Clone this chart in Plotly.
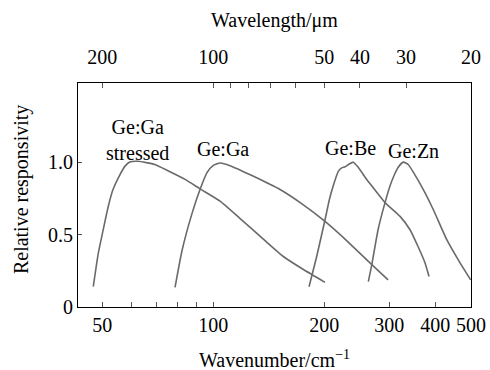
import numpy as np
import plotly.graph_objects as go

# Wavenumber (cm^-1) and relative responsivity for each detector
ga_stressed_wn = [47.3, 48.8, 50.3, 51.9, 53.5, 55.8, 57.6, 59.4, 62.5, 69.4, 75.4, 83.9,
                  92.1, 104.4, 118.3, 136.5, 154.6, 175.2, 201.0]
ga_stressed_r = [0.14, 0.37, 0.53, 0.69, 0.81, 0.91, 0.97, 1.00, 1.005, 0.983, 0.94, 0.88,
                 0.815, 0.73, 0.61, 0.47, 0.35, 0.26, 0.17]

ga_wn = [78.8, 82.3, 87.6, 92.1, 96.2, 99.9, 104.4, 111.1, 128.2, 151.8, 175.2, 201.0,
         235.0, 269.6, 298.0]
ga_r = [0.135, 0.388, 0.644, 0.81, 0.927, 0.975, 0.993, 0.975, 0.903, 0.81, 0.706, 0.59,
        0.436, 0.29, 0.187]

be_wn = [181.9, 190.8, 201.0, 206.5, 211.4, 218.4, 223.1, 227.8, 233.6, 239.9, 247.0,
         260.8, 283.4, 292.3, 321.1, 341.7, 359.2, 375.3, 384.8]
be_r = [0.14, 0.348, 0.602, 0.74, 0.833, 0.936, 0.96, 0.967, 0.986, 0.999, 0.965,
        0.879, 0.763, 0.72, 0.625, 0.533, 0.417, 0.304, 0.21]

zn_wn = [263.4, 269.1, 279.9, 292.3, 301.7, 309.3, 317.1, 327.7, 337.8, 356.3, 375.3,
         395.3, 429.8, 467.0, 499.0]
zn_r = [0.175, 0.29, 0.533, 0.72, 0.837, 0.907, 0.962, 0.999, 0.983, 0.891, 0.787,
        0.671, 0.464, 0.304, 0.187]

# Axis ticks
wn_ticks = [50, 60, 70, 80, 90, 100, 200, 300, 400, 500]
wn_labels = ["50", "", "", "", "", "100", "200", "300", "400", "500"]
wl_ticks_um = [200, 100, 90, 80, 70, 60, 50, 40, 30, 20]
wl_labels = ["200", "100", "", "", "", "", "50", "40", "30", "20"]
r_ticks = [0, 0.5, 1.0]
r_labels = ["0", "0.5", "1.0"]

# Curve labels: (text, wavenumber, responsivity)
labels = [
    ("Ge:Ga<br>stressed", 62.2, 1.149),
    ("Ge:Ga", 106.3, 1.087),
    ("Ge:Be", 235.0, 1.10),
    ("Ge:Zn", 348.3, 1.073),
]

FONT = "Liberation Serif, Times New Roman, DejaVu Serif, serif"
FS = 20
LINE = "#6a6a6a"

fig = go.Figure()
for wn, r in [(ga_stressed_wn, ga_stressed_r), (ga_wn, ga_r), (be_wn, be_r), (zn_wn, zn_r)]:
    fig.add_trace(go.Scatter(x=wn, y=r, mode="lines",
                             line=dict(color=LINE, width=1.6, shape="spline", smoothing=0.5),
                             showlegend=False, hoverinfo="skip"))

# carrier trace for the top (wavelength) axis
fig.add_trace(go.Scatter(x=[50, 500], y=[0, 0], xaxis="x2", mode="markers",
                         marker=dict(opacity=0), showlegend=False, hoverinfo="skip"))

xrange = [np.log10(43), np.log10(500)]

fig.update_layout(
    width=490, height=370,
    margin=dict(l=78, r=19, t=83, b=63),
    paper_bgcolor="white", plot_bgcolor="white",
    font=dict(family=FONT, size=FS, color="black"),
    xaxis=dict(type="log", range=xrange, tickvals=wn_ticks, ticktext=wn_labels,
               ticks="inside", ticklen=5, tickwidth=1, tickcolor="#555",
               showline=True, linecolor="black", linewidth=1.2, mirror=True,
               showgrid=False, zeroline=False, automargin=False),
    xaxis2=dict(type="log", range=xrange, overlaying="x", side="top", matches="x",
                tickvals=[10000.0 / w for w in wl_ticks_um], ticktext=wl_labels,
                ticks="inside", ticklen=5, tickwidth=1, tickcolor="#555",
                ticklabelstandoff=14,
                showline=False, showgrid=False, zeroline=False, automargin=False),
    yaxis=dict(range=[0, 1.545], tickvals=r_ticks, ticktext=r_labels,
               ticks="inside", ticklen=4, tickwidth=1, tickcolor="#555",
               showline=True, linecolor="black", linewidth=1.2, mirror=True,
               showgrid=False, zeroline=False, automargin=False),
)

for text, wn, r in labels:
    fig.add_annotation(x=np.log10(wn), y=r, xref="x", yref="y", text=text,
                       xanchor="center", yanchor="middle",
                       showarrow=False, font=dict(family=FONT, size=FS, color="black"))

# Axis titles
fig.add_annotation(x=0.5, y=1.281, xref="paper", yref="paper", text="Wavelength/μm",
                   xanchor="center", yanchor="middle",
                   showarrow=False, font=dict(family=FONT, size=FS))
fig.add_annotation(x=0.5, y=-0.232, xref="paper", yref="paper",
                   text="Wavenumber/cm<sup>−1</sup>", xanchor="center", yanchor="middle",
                   showarrow=False, font=dict(family=FONT, size=FS))
fig.add_annotation(x=-0.145, y=0.522, xref="paper", yref="paper",
                   text="Relative responsivity", textangle=-90,
                   xanchor="center", yanchor="middle",
                   showarrow=False, font=dict(family=FONT, size=FS))

fig.write_html("out.html")
